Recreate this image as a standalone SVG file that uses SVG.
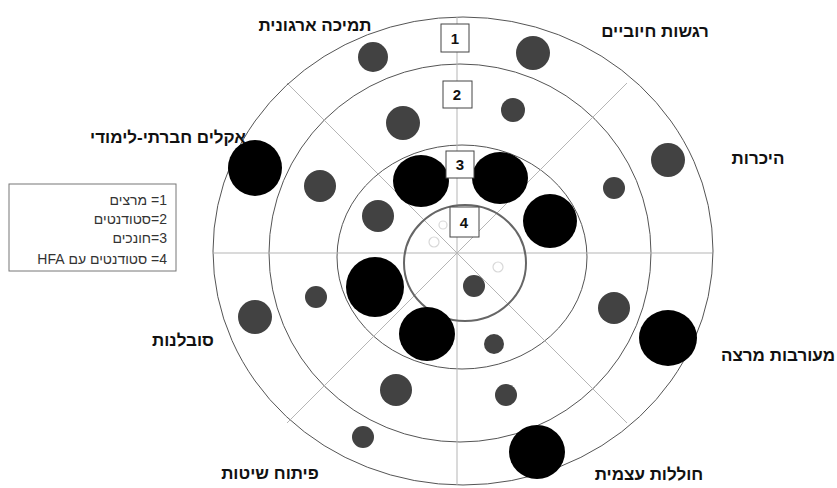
<svg xmlns="http://www.w3.org/2000/svg" width="837" height="488" viewBox="0 0 837 488">
<style>
.ring{fill:none;stroke:#555;stroke-width:1}
.axis{stroke:#b5b5b5;stroke-width:1;fill:none}
.g{fill:#424242}
.b{fill:#000}
.ghost{fill:none;stroke:#d8d8d8;stroke-width:1.2}
.lbl{font-family:"Liberation Sans","DejaVu Sans",Arial,sans-serif;font-size:17px;font-weight:bold;fill:#111;text-anchor:middle;direction:rtl}
.leg{font-family:"Liberation Sans","DejaVu Sans",Arial,sans-serif;font-size:14px;fill:#333;direction:rtl;text-anchor:start}
.box rect{fill:#fff;stroke:#444;stroke-width:1}
.box text{font-family:"Liberation Sans","DejaVu Sans",Arial,sans-serif;font-size:15px;font-weight:bold;fill:#111;text-anchor:middle}
</style>
<rect width="837" height="488" fill="#fff"/>
<g id="rings">
<ellipse class="ring" cx="463" cy="251" rx="250" ry="234"/>
<ellipse class="ring" cx="460" cy="253" rx="191" ry="189"/>
<ellipse class="ring" cx="462" cy="257" rx="125" ry="112"/>
</g>
<g id="connectors">
<line class="axis" x1="457" y1="17" x2="457" y2="485"/>
<line class="axis" x1="212" y1="253" x2="712" y2="253"/>
<line class="axis" x1="287" y1="83" x2="627" y2="423"/>
<line class="axis" x1="627" y1="83" x2="287" y2="423"/>
</g>
<g id="center">
<ellipse cx="465" cy="263" rx="61" ry="58" fill="none" stroke="#666" stroke-width="2"/>
<circle class="ghost" cx="443" cy="225" r="4"/>
<circle class="ghost" cx="434" cy="242" r="5"/>
<circle class="ghost" cx="498" cy="267" r="5"/>
</g>
<g id="dots">
<circle class="g" cx="373" cy="57" r="15"/>
<circle class="g" cx="533" cy="53" r="17"/>
<circle class="g" cx="403" cy="123" r="17"/>
<circle class="g" cx="513" cy="110" r="12"/>
<circle class="g" cx="668" cy="160" r="17"/>
<circle class="g" cx="320" cy="186" r="16"/>
<circle class="g" cx="614" cy="188" r="11"/>
<circle class="g" cx="378" cy="216" r="16"/>
<circle class="g" cx="316" cy="297" r="11"/>
<circle class="g" cx="255" cy="317" r="17"/>
<circle class="g" cx="614" cy="308" r="16"/>
<circle class="g" cx="474" cy="286" r="11"/>
<circle class="g" cx="494" cy="344" r="10"/>
<circle class="g" cx="396" cy="390" r="16"/>
<circle class="g" cx="506" cy="395" r="11"/>
<circle class="g" cx="363" cy="437" r="11"/>
<ellipse class="b" cx="255" cy="168" rx="27" ry="28"/>
<ellipse class="b" cx="421" cy="181" rx="28" ry="26"/>
<ellipse class="b" cx="500" cy="178" rx="28" ry="26"/>
<ellipse class="b" cx="550" cy="221" rx="27" ry="27"/>
<ellipse class="b" cx="375" cy="287" rx="29" ry="30"/>
<ellipse class="b" cx="427" cy="334" rx="28" ry="27"/>
<ellipse class="b" cx="668" cy="338" rx="29" ry="28"/>
<ellipse class="b" cx="537" cy="452" rx="28" ry="27"/>
</g>
<g id="box1" class="box"><rect x="441" y="24" width="28" height="28"/><text x="455" y="44">1</text></g>
<g id="box2" class="box"><rect x="443" y="81" width="29" height="27"/><text x="457" y="100">2</text></g>
<g id="box3" class="box"><rect x="446" y="151" width="28" height="27"/><text x="460" y="170">3</text></g>
<g id="box4" class="box"><rect x="450" y="207" width="29" height="30"/><text x="464" y="228">4</text></g>
<g id="labels">
<text class="lbl" x="315" y="31">תמיכה ארגונית</text>
<text class="lbl" x="655" y="37">רגשות חיוביים</text>
<text class="lbl" x="168" y="143">אקלים חברתי-לימודי</text>
<text class="lbl" x="758" y="164">היכרות</text>
<text class="lbl" x="778" y="361">מעורבות מרצה</text>
<text class="lbl" x="183" y="346">סובלנות</text>
<text class="lbl" x="270" y="479">פיתוח שיטות</text>
<text class="lbl" x="649" y="480">חוללות עצמית</text>
</g>
<g id="legend">
<rect x="9" y="184" width="167" height="87" fill="#fff" stroke="#777" stroke-width="1"/>
<text class="leg" x="167" y="205">1= מרצים</text>
<text class="leg" x="167" y="224">2=סטודנטים</text>
<text class="leg" x="167" y="243">3=חונכים</text>
<text class="leg" x="167" y="264">4= סטודנטים עם HFA</text>
</g>
</svg>
